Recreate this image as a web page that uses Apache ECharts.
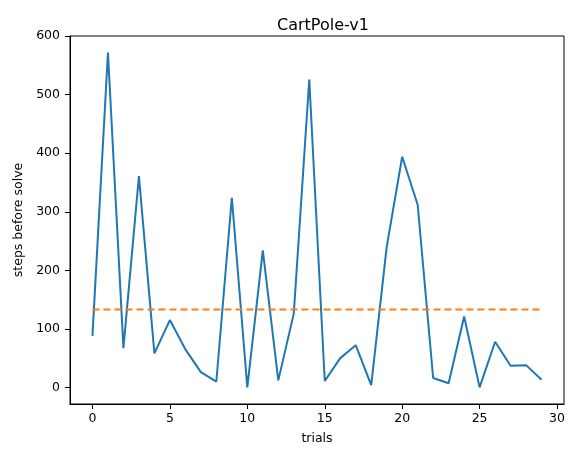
<!DOCTYPE html>
<html>
<head>
<meta charset="utf-8">
<script src="https://cdn.jsdelivr.net/npm/echarts@6/dist/echarts.min.js"></script>
<style>
  html, body { margin: 0; padding: 0; background: #fff; }
  #main { width: 568px; height: 450px; }
</style>
</head>
<body>
<div id="main"></div>
<script>
// steps needed before the env counted as solved, one per trial
const trials = [0, 1, 2, 3, 4, 5, 6, 7, 8, 9, 10, 11, 12, 13, 14,
                15, 16, 17, 18, 19, 20, 21, 22, 23, 24, 25, 26, 27, 28, 29];
const steps = [88, 572, 67, 361, 58, 115, 65, 26, 10, 324, 0, 234, 12, 126, 526,
               11, 50, 72, 4, 240, 394, 312, 16, 7, 121, 0, 78, 37, 38, 13];
// dashed mean line, drawn from first to last trial
const meanX = [0, 29];
const meanY = [133, 133];
const xTicks = [0, 5, 10, 15, 20, 25, 30];
const yTicks = [0, 100, 200, 300, 400, 500, 600];

const font = 'DejaVu Sans';

option = {
    backgroundColor: '#fff',
    animation: false,
    title: {
        text: 'CartPole-v1',
        left: 318,
        top: 13,
        textAlign: 'center',
        textStyle: {fontFamily: font, fontSize: 16, fontWeight: 'normal', color: '#000'},
    },
    grid: {
        left: 70,
        right: 1,
        top: 36,
        bottom: 42,
        show: true,
        borderColor: '#000',
        borderWidth: 1,
    },
    xAxis: {
        type: 'value',
        min: -1.45,
        max: 30.45,
        name: 'trials',
        nameLocation: 'middle',
        nameGap: 28,
        nameTextStyle: {fontFamily: font, fontSize: 12.5, color: '#000'},
        axisLine: {show: true, onZero: false, lineStyle: {color: '#000'}},
        axisTick: {show: true, length: 5, lineStyle: {color: '#000'}, customValues: xTicks},
        axisLabel: {fontFamily: font, fontSize: 12.5, color: '#000', margin: 8, customValues: xTicks},
        splitLine: {show: false},
    },
    yAxis: {
        type: 'value',
        min: -28.4,
        max: 600.3,
        name: 'steps before solve',
        nameLocation: 'middle',
        nameGap: 45,
        nameRotate: 90,
        nameTextStyle: {fontFamily: font, fontSize: 12.5, color: '#000'},
        axisLine: {show: true, onZero: false, lineStyle: {color: '#000'}},
        axisTick: {show: true, length: 5, lineStyle: {color: '#000'}, customValues: yTicks},
        axisLabel: {fontFamily: font, fontSize: 12.5, color: '#000', margin: 10, customValues: yTicks},
        splitLine: {show: false},
    },
    series: [
        {
            name: 'steps',
            type: 'line',
            data: trials.map((t, i) => [t, steps[i]]),
            showSymbol: false,
            lineStyle: {color: '#1f77b4', width: 2},
            z: 2,
        },
        {
            name: 'mean',
            type: 'line',
            data: meanX.map((t, i) => [t, meanY[i]]),
            showSymbol: false,
            lineStyle: {color: '#ff7f0e', width: 2, type: [7, 4]},
            z: 3,
        },
    ],
};

dom = document.getElementById('main');
chart = echarts.init(dom);
chart.setOption(option);
</script>
</body>
</html>
